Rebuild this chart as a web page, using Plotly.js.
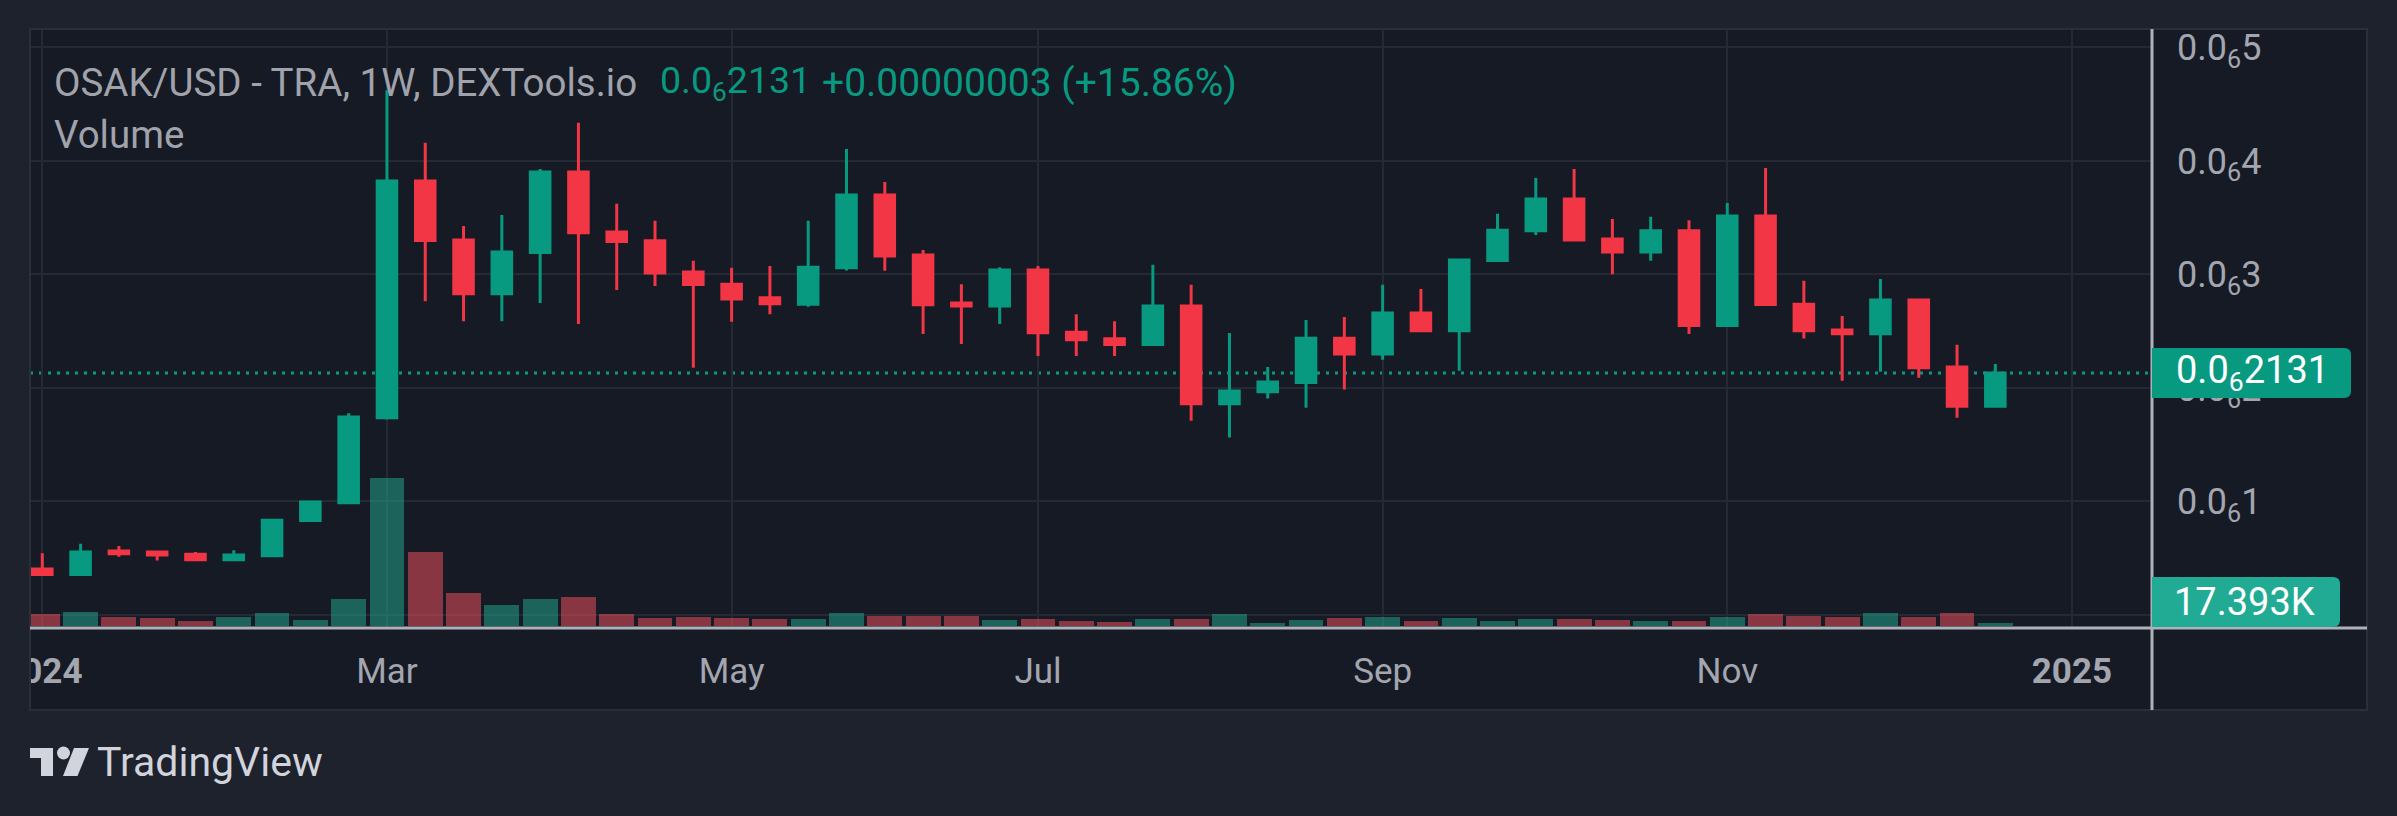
<!DOCTYPE html>
<html>
<head>
<meta charset="utf-8">
<script src="https://cdn.plot.ly/plotly-3.0.1.min.js"></script>
<style>
html,body{margin:0;padding:0;background:#1e222d;overflow:hidden;}
#chart{width:2397px;height:816px;}
</style>
</head>
<body>
<div id="chart"></div>
<script>
// ---------------- DATA (weekly candles, prices in units of 1e-7 USD) ----------------
const weeks = [
  '2024-01-01','2024-01-08','2024-01-15','2024-01-22','2024-01-29',
  '2024-02-05','2024-02-12','2024-02-19','2024-02-26',
  '2024-03-04','2024-03-11','2024-03-18','2024-03-25',
  '2024-04-01','2024-04-08','2024-04-15','2024-04-22','2024-04-29',
  '2024-05-06','2024-05-13','2024-05-20','2024-05-27',
  '2024-06-03','2024-06-10','2024-06-17','2024-06-24',
  '2024-07-01','2024-07-08','2024-07-15','2024-07-22','2024-07-29',
  '2024-08-05','2024-08-12','2024-08-19','2024-08-26',
  '2024-09-02','2024-09-09','2024-09-16','2024-09-23','2024-09-30',
  '2024-10-07','2024-10-14','2024-10-21','2024-10-28',
  '2024-11-04','2024-11-11','2024-11-18','2024-11-25',
  '2024-12-02','2024-12-09','2024-12-16','2024-12-23'
];
const openE7 = [0.404,0.355,0.564,0.554,0.535,0.486,0.522,0.831,0.988,1.738,
  3.824,3.302,2.830,3.192,3.902,3.374,3.296,3.022,2.914,2.794,
  2.738,3.058,3.700,3.172,2.748,2.722,3.038,2.491,2.432,2.383,
  2.722,1.861,1.966,2.047,2.438,2.298,2.660,2.504,3.123,3.384,
  3.664,3.312,3.198,3.384,2.549,3.514,2.738,2.510,2.478,2.774,
  2.184,1.8393];
const highE7 = [0.544,0.626,0.606,0.564,0.554,0.570,0.835,1.004,1.777,4.623,
  4.160,3.426,3.524,3.928,4.336,3.622,3.472,3.120,3.058,3.074,
  3.472,4.104,3.814,3.214,2.914,3.064,3.074,2.650,2.588,3.084,
  2.908,2.484,2.184,2.598,2.624,2.908,2.872,3.136,3.534,3.850,
  3.928,3.488,3.508,3.478,3.628,3.938,2.944,2.634,2.960,2.774,
  2.380,2.210];
const lowE7 = [0.352,0.342,0.512,0.479,0.484,0.484,0.520,0.821,0.981,1.721,
  2.764,2.588,2.588,2.748,2.562,2.862,2.898,2.178,2.582,2.650,
  2.716,3.035,3.032,2.474,2.386,2.562,2.282,2.282,2.282,2.370,
  1.711,1.562,1.907,1.826,1.985,2.249,2.504,2.152,3.123,3.348,
  3.296,3.002,3.120,2.474,2.549,2.735,2.435,2.064,2.142,2.090,
  1.738,1.835];
const closeE7 = [0.355,0.554,0.538,0.528,0.486,0.528,0.835,0.994,1.744,3.824,
  3.299,2.830,3.198,3.902,3.368,3.289,3.012,2.911,2.784,2.742,
  3.064,3.700,3.162,2.732,2.722,3.038,2.487,2.425,2.383,2.722,
  1.861,1.972,2.051,2.438,2.298,2.660,2.504,3.126,3.390,3.664,
  3.302,3.198,3.384,2.549,3.514,2.735,2.504,2.478,2.774,2.178,
  1.8393,2.131];
const volume = [68400,81800,53400,45200,27800,51600,74800,34200,156600,858400,
  429200,190800,122400,156600,167600,68400,45200,51600,45200,40600,
  40600,74800,58000,58000,58000,34200,40600,27800,23800,40600,
  40600,68400,17100,34200,45200,51600,27800,45200,27800,40600,
  40600,34200,27800,27800,51600,68400,58000,51600,74800,51600,
  74800,17393];

const monthTickIdx  = [0, 9, 18, 26, 35, 44, 53];
const monthTickText = ['<b>2024</b>','Mar','May','Jul','Sep','Nov','<b>2025</b>'];
const priceTickE7   = [1, 2, 3, 4, 5];
const priceTickText = ['0.0<sub>6</sub>1','0.0<sub>6</sub>2','0.0<sub>6</sub>3','0.0<sub>6</sub>4','0.0<sub>6</sub>5'];

const titleText   = 'OSAK/USD - TRA, 1W, DEXTools.io';
const lastText    = '0.0<sub>6</sub>2131';
const changeText  = '+0.00000003 (+15.86%)';
const volLabel    = '17.393K';

// ---------------- STYLE / GEOMETRY ----------------
const E7 = 1e-7;
const W = 2397, H = 816, L = 30, R = 2152, T = 29, B = 628;
const PANE_R = 2367, PANE_B = 710;
const GREEN = '#089981', RED = '#f23645';
const VGREEN = 'rgba(34,171,148,0.5)', VRED = 'rgba(247,82,95,0.5)';
const PANE_BG = '#161a25', OUTER_BG = '#1e222d', GRID = '#252934';
const AXIS_LINE = '#aeb1b9', TEXT = '#a3a6af';
const FONT = 'Roboto, "Noto Sans", sans-serif';

const px = x => (x - L) / (R - L);
const py = y => (B - y) / (B - T);

// bar-index scale: x pixel = 42.3 + 38.295 * index
const X0PX = 42.3, BARPX = 38.295;
// price scale: zero at pixel 614.9, 113.5 px per 1e-7
const ZEROPX = 614.9, UNITPX = 113.5;
// volume scale: zero at 626 px, 5800 per px
const VZEROPX = 626, VPERPX = 5800;

const idx = weeks.map((_, i) => i);
const last = closeE7.length - 1;

const candle = {
  type: 'candlestick',
  x: idx,
  open: openE7.map(v => v * E7),
  high: highE7.map(v => v * E7),
  low: lowE7.map(v => v * E7),
  close: closeE7.map(v => v * E7),
  text: weeks,
  increasing: {line: {color: GREEN, width: 3}, fillcolor: GREEN},
  decreasing: {line: {color: RED, width: 3}, fillcolor: RED},
  whiskerwidth: 0,
  hoverinfo: 'skip',
  showlegend: false,
  xaxis: 'x', yaxis: 'y'
};

const vol = {
  type: 'bar',
  x: idx,
  y: volume,
  width: 0.91,
  marker: {color: idx.map(i => closeE7[i] >= openE7[i] ? VGREEN : VRED), line: {width: 0}},
  hoverinfo: 'skip',
  showlegend: false,
  xaxis: 'x', yaxis: 'y2'
};

function roundedBox(x0, x1, y0, y1, r, color) {
  const p = (x, y) => px(x) + ',' + py(y);
  const path = 'M' + p(x0, y0) + ' L' + p(x1 - r, y0) + ' Q' + p(x1, y0) + ' ' + p(x1, y0 + r) +
    ' L' + p(x1, y1 - r) + ' Q' + p(x1, y1) + ' ' + p(x1 - r, y1) + ' L' + p(x0, y1) + ' Z';
  return {type: 'path', xref: 'paper', yref: 'paper', path: path, fillcolor: color, line: {width: 0}, layer: 'above'};
}
function polyPx(pts, color) {
  const path = pts.map((q, k) => (k ? 'L' : 'M') + px(q[0]) + ',' + py(q[1])).join(' ') + ' Z';
  return {type: 'path', xref: 'paper', yref: 'paper', path: path, fillcolor: color, line: {width: 0}, layer: 'above'};
}

const shapes = [
  // pane background
  {type: 'rect', xref: 'paper', yref: 'paper', x0: px(L), x1: px(PANE_R), y0: py(T), y1: py(PANE_B),
   fillcolor: PANE_BG, line: {width: 0}, layer: 'below'},
  // zero-price gridline
  {type: 'line', xref: 'paper', yref: 'y', x0: 0, x1: 1, y0: 0, y1: 0,
   line: {color: GRID, width: 2}, layer: 'below'},
  // last price dotted line
  {type: 'line', xref: 'paper', yref: 'y', x0: 0, x1: 1, y0: closeE7[last] * E7, y1: closeE7[last] * E7,
   line: {color: GREEN, width: 3, dash: '3px,6px'}, layer: 'below'},
  // cover left of pane under time axis (clip "2024")
  {type: 'rect', xref: 'paper', yref: 'paper', x0: px(0), x1: px(L), y0: py(B), y1: py(PANE_B + 2),
   fillcolor: OUTER_BG, line: {width: 0}, layer: 'above'},
  // pane border
  {type: 'rect', xref: 'paper', yref: 'paper', x0: px(L), x1: px(PANE_R), y0: py(T), y1: py(PANE_B),
   line: {color: '#2a2e39', width: 2}, layer: 'above'},
  // price axis line
  {type: 'line', xref: 'paper', yref: 'paper', x0: px(R), x1: px(R), y0: py(T), y1: py(PANE_B),
   line: {color: AXIS_LINE, width: 3}, layer: 'above'},
  // time axis line
  {type: 'line', xref: 'paper', yref: 'paper', x0: px(L), x1: px(PANE_R), y0: py(B), y1: py(B),
   line: {color: AXIS_LINE, width: 3}, layer: 'above'},
  // last price label box
  roundedBox(R, 2351, 348, 398, 7, GREEN),
  // volume label box
  roundedBox(R, 2340, 577, 627, 7, '#22ab94'),
  // TradingView logo
  polyPx([[30,748],[53,748],[53,776],[41,776],[41,758],[30,758]], '#d1d4dc'),
  {type: 'circle', xref: 'paper', yref: 'paper', x0: px(57), x1: px(70), y0: py(746.5), y1: py(759.5),
   fillcolor: '#d1d4dc', line: {width: 0}, layer: 'above'},
  polyPx([[74,748],[89,748],[77.5,776],[63,776]], '#d1d4dc')
];

const ann = (text, x, y, size, color, extra) => Object.assign({
  text: text, x: px(x), y: py(y), xref: 'paper', yref: 'paper', xanchor: 'left', yanchor: 'middle',
  showarrow: false, font: {family: FONT, size: size, color: color}
}, extra || {});

const annotations = [
  ann(titleText, 52, 83, 38.5, '#a0a3ab'),
  ann(lastText, 658, 83, 37.5, GREEN),
  ann(changeText, 820, 83, 39, GREEN),
  ann('Volume', 52, 134, 38.5, '#a0a3ab'),
  ann(lastText, 2174, 373, 38, '#ffffff'),
  ann(volLabel, 2172, 602, 38, '#ffffff'),
  ann('TradingView', 95, 762, 41, '#d1d4dc')
];

const layout = {
  width: W, height: H,
  margin: {l: L, r: W - R, t: T, b: H - B, pad: 0},
  paper_bgcolor: OUTER_BG,
  plot_bgcolor: PANE_BG,
  showlegend: false,
  hovermode: false,
  boxgap: 0.27,
  bargap: 0,
  xaxis: {
    type: 'linear',
    range: [(L - X0PX) / BARPX, (R - X0PX) / BARPX],
    tickmode: 'array', tickvals: monthTickIdx, ticktext: monthTickText,
    showgrid: true, gridcolor: GRID, gridwidth: 2,
    zeroline: false, showline: false, ticks: '',
    ticklabelstandoff: 19,
    tickfont: {family: FONT, size: 35, color: TEXT},
    rangeslider: {visible: false},
    fixedrange: true
  },
  yaxis: {
    type: 'linear', side: 'right',
    range: [(ZEROPX - B) / UNITPX * E7, (ZEROPX - T) / UNITPX * E7],
    tickmode: 'array', tickvals: priceTickE7.map(v => v * E7), ticktext: priceTickText,
    showgrid: true, gridcolor: GRID, gridwidth: 2,
    zeroline: false, showline: false, ticks: '',
    ticklabelstandoff: 24,
    tickfont: {family: FONT, size: 36, color: TEXT},
    fixedrange: true
  },
  yaxis2: {
    overlaying: 'y', side: 'right',
    range: [-(B - VZEROPX) * VPERPX, (VZEROPX - T) * VPERPX],
    showgrid: false, zeroline: false, showline: false, showticklabels: false, ticks: '',
    fixedrange: true
  },
  shapes: shapes,
  annotations: annotations
};

Plotly.newPlot('chart', [vol, candle], layout, {staticPlot: true, displayModeBar: false});
</script>
</body>
</html>
